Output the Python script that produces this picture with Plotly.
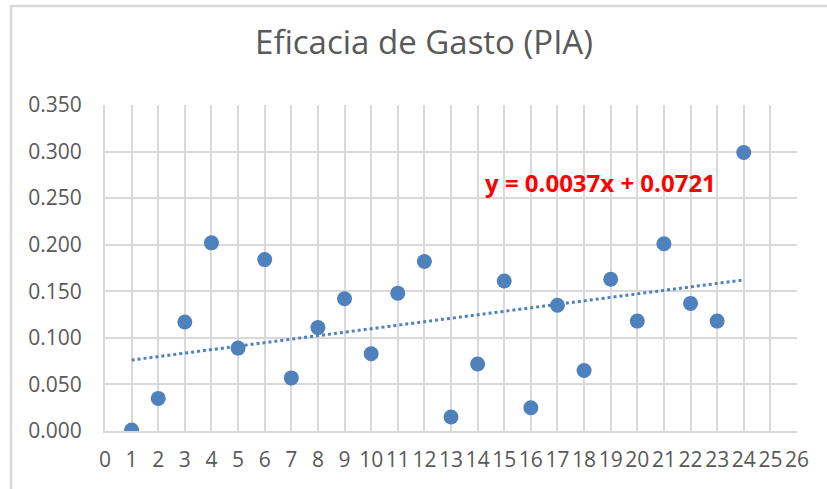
import numpy as np
import plotly.graph_objects as go

periods = list(range(1, 25))
eficacia = [0.001, 0.035, 0.117, 0.202, 0.089, 0.184, 0.057, 0.111, 0.142, 0.083,
            0.148, 0.182, 0.015, 0.072, 0.161, 0.025, 0.135, 0.065, 0.163, 0.118,
            0.201, 0.137, 0.118, 0.299]
title_text = "Eficacia de Gasto (PIA)"
eq_text = "y = 0.0037x + 0.0721"
x_ticks = list(range(0, 27))
y_ticks = [0, 0.05, 0.10, 0.15, 0.20, 0.25, 0.30, 0.35]

blue = "#4F81BD"
grid = "#D9D9D9"
txt = "#595959"

slope, intercept = np.polyfit(periods, eficacia, 1)
tx = [periods[0], periods[-1]]
ty = [slope * v + intercept for v in tx]

W, H = 827, 489
L, R, T, B = 105, 30, 105, 58
pw, ph = W - L - R, H - T - B

fig = go.Figure()
fig.add_trace(go.Scatter(x=tx, y=ty, mode="lines",
                         line=dict(color=blue, width=3, dash="dot"),
                         hoverinfo="skip", showlegend=False))
fig.add_trace(go.Scatter(x=periods, y=eficacia, mode="markers",
                         marker=dict(color=blue, size=15, line=dict(width=0)),
                         showlegend=False))

fig.add_annotation(x=18.6, y=0.267, xref="x", yref="y", text=eq_text,
                   showarrow=False,
                   font=dict(family="Open Sans", size=24, color="#FF0000", weight="bold"))

# outer chart border
fig.add_shape(type="rect", xref="paper", yref="paper",
              x0=(11 - L) / pw, x1=(W + 20 - L) / pw,
              y0=(H - B - (H + 20)) / ph, y1=(H - B - 6) / ph,
              line=dict(color="#D9D9D9", width=2.5), layer="below")

fig.update_layout(
    width=W, height=H,
    margin=dict(l=L, r=R, t=T, b=B, autoexpand=False),
    paper_bgcolor="white", plot_bgcolor="white",
    title=dict(text=title_text, x=424 / W, xref="container", xanchor="center",
               y=1 - 42 / H, yanchor="middle",
               font=dict(family="Open Sans", size=33, color=txt)),
    font=dict(family="Open Sans", color=txt),
)
fig.update_xaxes(range=[0, 26], tickvals=x_ticks, ticktext=[str(v) for v in x_ticks],
                 showgrid=True, gridcolor=grid, gridwidth=2,
                 showline=True, linecolor=grid, linewidth=2,
                 zeroline=False, ticks="", tickfont=dict(size=21, color=txt),
                 ticklabelstandoff=9, fixedrange=True)
fig.update_yaxes(range=[0, 0.35], tickvals=y_ticks, ticktext=[f"{v:.3f}" for v in y_ticks],
                 showgrid=True, gridcolor=grid, gridwidth=2,
                 showline=True, linecolor=grid, linewidth=2,
                 zeroline=False, ticks="", tickfont=dict(size=21, color=txt),
                 ticklabelstandoff=17, fixedrange=True)

fig.write_html("out.html", config={"displayModeBar": False},
               post_script="document.body.style.margin='0';document.body.style.overflow='hidden';")
